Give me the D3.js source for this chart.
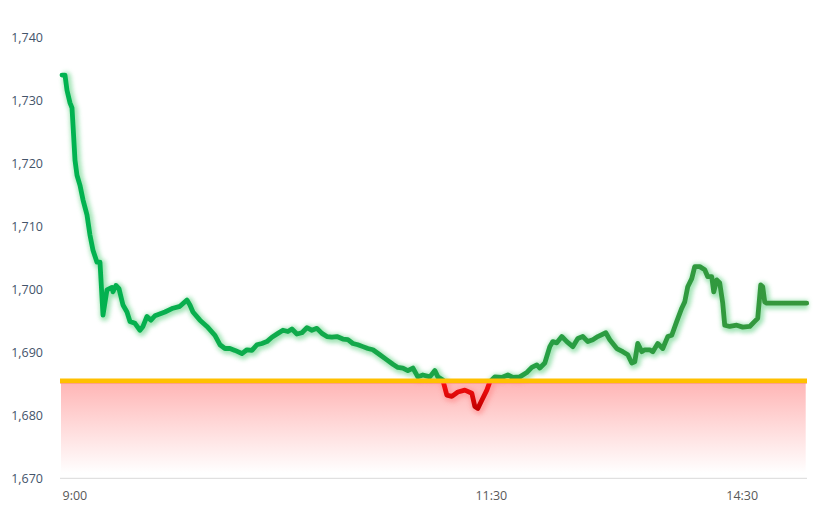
<!DOCTYPE html>
<html>
<head>
<meta charset="utf-8">
<script src="https://cdn.jsdelivr.net/npm/d3@7"></script>
<style>
  html, body { margin: 0; padding: 0; background: #fff; }
  svg { display: block; }
</style>
</head>
<body>
<svg id="chart" width="829" height="509"></svg>
<script>
// ---- data ----
// position along the trading session (sequence step) and price
const steps = [0,3,5,8,10,11,13,15,18,21,25,28,31,35,38,41,45,50,51,54,57,61,65,68,73,78,81,85,89,93,103,111,118,125,128,131,138,145,153,158,163,168,173,180,185,190,195,200,205,210,216,221,226,230,235,240,245,250,255,260,265,270,275,281,286,291,296,301,306,311,318,325,331,336,341,346,351,356,361,368,373,376,381,385,390,396,403,410,413,416,420,425,428,433,440,446,451,458,465,470,475,478,483,488,491,495,500,505,511,516,521,526,531,536,544,548,555,561,566,570,573,576,580,583,588,591,596,601,606,610,615,620,623,626,630,633,638,643,646,650,652,655,658,661,663,668,675,681,688,693,696,699,701,703,705,745];
const prices = [1734.0,1734.0,1731.6,1729.6,1728.8,1726.1,1720.5,1718.1,1716.5,1714.2,1711.8,1708.6,1706.2,1704.3,1704.3,1695.9,1699.9,1700.3,1699.6,1700.6,1700.1,1697.5,1696.4,1694.9,1694.6,1693.5,1694.1,1695.7,1695.1,1695.8,1696.4,1697.0,1697.3,1698.3,1697.5,1696.4,1695.1,1694.1,1692.7,1691.2,1690.6,1690.6,1690.3,1689.8,1690.4,1690.3,1691.2,1691.4,1691.7,1692.4,1693.0,1693.5,1693.3,1693.7,1692.9,1693.1,1693.9,1693.5,1693.8,1693.0,1692.5,1692.4,1692.5,1692.1,1692.0,1691.4,1691.2,1690.9,1690.6,1690.4,1689.6,1688.8,1688.1,1687.6,1687.5,1687.1,1687.5,1686.1,1686.4,1686.1,1687.1,1686.1,1685.6,1683.2,1683.0,1683.7,1684.0,1683.5,1681.4,1681.1,1682.4,1684.0,1685.3,1686.1,1686.0,1686.4,1686.0,1686.1,1686.8,1687.6,1688.0,1687.5,1688.3,1690.9,1691.7,1691.5,1692.5,1691.7,1690.9,1692.2,1692.5,1691.7,1692.0,1692.5,1693.1,1692.0,1690.6,1690.1,1689.6,1688.3,1688.5,1691.4,1690.1,1690.4,1690.4,1690.1,1691.4,1690.6,1692.5,1692.7,1694.9,1697.0,1698.0,1700.4,1701.7,1703.6,1703.6,1703.1,1702.0,1702.0,1699.6,1701.5,1701.0,1697.8,1694.3,1694.1,1694.3,1694.0,1694.1,1694.9,1695.4,1700.7,1700.4,1698.0,1697.8,1697.8];
const prevClose = 1685.5;
const yTickValues = [1670,1680,1690,1700,1710,1720,1730,1740];
const xTickSteps = [0, 429, 680];
const xTickLabels = ["9:00", "11:30", "14:30"];

// ---- layout ----
const svg = d3.select("#chart");
const x = d3.scaleLinear().domain([0, 745]).range([62, 806.7]);
const y = d3.scaleLinear().domain([1670, 1740]).range([478.3, 37.3]);
const data = steps.map((s, i) => ({ s, v: prices[i] }));
const yBase = y(prevClose);

const defs = svg.append("defs");

const gArea = defs.append("linearGradient").attr("id", "areaGrad")
  .attr("x1", 0).attr("y1", 0).attr("x2", 0).attr("y2", 1);
gArea.append("stop").attr("offset", "0%").attr("stop-color", "#ffb4b4");
gArea.append("stop").attr("offset", "55%").attr("stop-color", "#ffdede");
gArea.append("stop").attr("offset", "100%").attr("stop-color", "#ffffff");

const gGreen = defs.append("linearGradient").attr("id", "greenGrad")
  .attr("gradientUnits", "userSpaceOnUse")
  .attr("x1", x(0)).attr("y1", 0).attr("x2", x(745)).attr("y2", 0);
gGreen.append("stop").attr("offset", "0%").attr("stop-color", "#00b350");
gGreen.append("stop").attr("offset", "40%").attr("stop-color", "#14a84a");
gGreen.append("stop").attr("offset", "70%").attr("stop-color", "#2a9d42");
gGreen.append("stop").attr("offset", "100%").attr("stop-color", "#36973c");

const gRed = defs.append("linearGradient").attr("id", "redGrad")
  .attr("gradientUnits", "userSpaceOnUse")
  .attr("x1", 0).attr("y1", yBase).attr("x2", 0).attr("y2", y(1681));
gRed.append("stop").attr("offset", "0%").attr("stop-color", "#ff1010");
gRed.append("stop").attr("offset", "100%").attr("stop-color", "#c00000");

const blur = defs.append("filter").attr("id", "glow")
  .attr("x", "-5%").attr("y", "-5%").attr("width", "110%").attr("height", "110%");
blur.append("feGaussianBlur").attr("stdDeviation", 2.2);

defs.append("clipPath").attr("id", "clipAbove")
  .append("rect").attr("x", 0).attr("y", 0).attr("width", 829).attr("height", yBase);
defs.append("clipPath").attr("id", "clipBelow")
  .append("rect").attr("x", 0).attr("y", yBase).attr("width", 829).attr("height", 509 - yBase);

// area under previous close
svg.append("rect")
  .attr("x", x(0) - 1).attr("y", yBase)
  .attr("width", x(745) - x(0)).attr("height", y(1670.8) - yBase)
  .attr("fill", "url(#areaGrad)");

// x axis line
svg.append("line")
  .attr("x1", 60).attr("x2", 807).attr("y1", y(1670)).attr("y2", y(1670))
  .attr("stroke", "#d9d9d9").attr("stroke-width", 1);

// y axis labels
const yAxis = d3.axisLeft(y).tickValues(yTickValues).tickSize(0).tickPadding(0)
  .tickFormat(d3.format(","));
const gy = svg.append("g").attr("transform", "translate(43,0)").call(yAxis);
gy.select(".domain").remove();
gy.selectAll("text").attr("font-family", "'Open Sans', 'Liberation Sans', sans-serif")
  .attr("font-size", 12.5).attr("fill", "#44546a").attr("dy", "0.35em");

// x axis labels
const xAxis = d3.axisBottom(x).tickValues(xTickSteps).tickSize(0).tickPadding(0)
  .tickFormat((d, i) => xTickLabels[i]);
const gx = svg.append("g").attr("transform", "translate(0,496)").call(xAxis);
gx.select(".domain").remove();
gx.selectAll("text").attr("font-family", "'Open Sans', 'Liberation Sans', sans-serif")
  .attr("font-size", 12.5).attr("fill", "#595959").attr("dy", "0.35em")
  .attr("text-anchor", (d, i) => i === 0 ? "start" : "middle");

// price line
const line = d3.line().x(d => x(d.s)).y(d => y(d.v)).curve(d3.curveLinear);

// glow
svg.append("path").datum(data)
  .attr("d", line).attr("fill", "none")
  .attr("stroke", "#9fe3b3").attr("stroke-width", 9).attr("stroke-linejoin", "round")
  .attr("transform", "translate(1.5,1.5)").attr("filter", "url(#glow)")
  .attr("clip-path", "url(#clipAbove)").attr("opacity", 0.95);
svg.append("path").datum(data)
  .attr("d", line).attr("fill", "none")
  .attr("stroke", "#ff9a9a").attr("stroke-width", 9).attr("stroke-linejoin", "round")
  .attr("transform", "translate(1.5,1.5)").attr("filter", "url(#glow)")
  .attr("clip-path", "url(#clipBelow)").attr("opacity", 0.8);

svg.append("path").datum(data)
  .attr("d", line).attr("fill", "none")
  .attr("stroke", "url(#greenGrad)").attr("stroke-width", 4.8)
  .attr("stroke-linejoin", "round").attr("stroke-linecap", "round")
  .attr("clip-path", "url(#clipAbove)");
svg.append("path").datum(data)
  .attr("d", line).attr("fill", "none")
  .attr("stroke", "url(#redGrad)").attr("stroke-width", 4.8)
  .attr("stroke-linejoin", "round").attr("stroke-linecap", "round")
  .attr("clip-path", "url(#clipBelow)");

// previous close line
svg.append("line")
  .attr("x1", 60).attr("x2", 807).attr("y1", yBase + 2.2).attr("y2", yBase + 2.2)
  .attr("stroke", "#ff8a5a").attr("stroke-width", 1.2);
svg.append("line")
  .attr("x1", 60).attr("x2", 807).attr("y1", yBase).attr("y2", yBase)
  .attr("stroke", "#ffc000").attr("stroke-width", 4.5);
</script>
</body>
</html>
